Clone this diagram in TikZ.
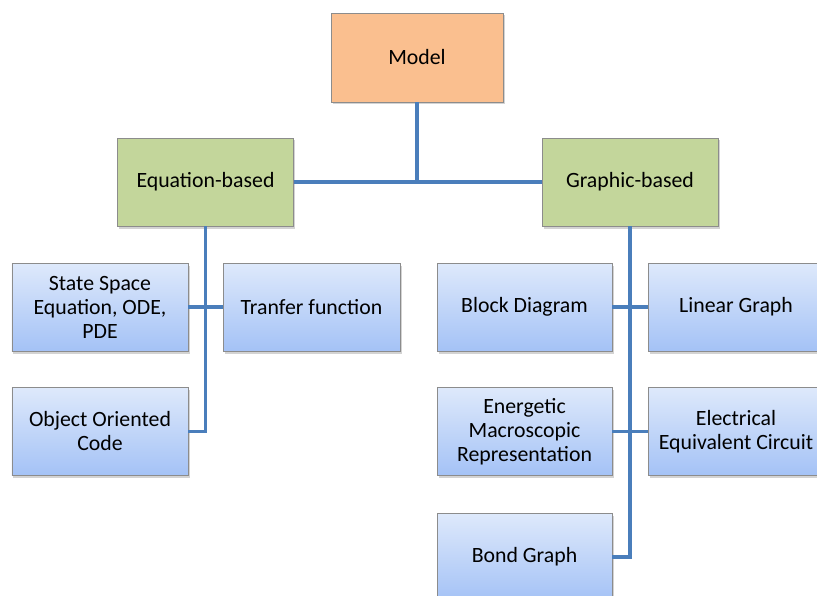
\documentclass[tikz,border=0pt]{standalone}
\usepackage{fontspec}
\setmainfont{Carlito}
\usetikzlibrary{shadows}
\definecolor{linkblue}{RGB}{74,126,187}
\definecolor{modelorange}{RGB}{250,191,143}
\definecolor{catgreen}{RGB}{195,214,155}
\definecolor{leaftop}{RGB}{222,233,251}
\definecolor{leafbot}{RGB}{164,194,246}
\definecolor{boxborder}{RGB}{140,140,140}
\tikzset{
  basebox/.style={draw=boxborder, line width=0.8bp, minimum width=176bp, minimum height=88bp,
    inner sep=0pt, align=center, font=\fontsize{21.8bp}{24bp}\selectfont,
    drop shadow={shadow xshift=1.5bp, shadow yshift=-2.5bp, opacity=0.35}},
  modelbox/.style={basebox, fill=modelorange, minimum width=172bp, minimum height=89bp},
  catbox/.style={basebox, fill=catgreen},
  leafbox/.style={basebox, top color=leaftop, bottom color=leafbot},
  link/.style={draw=linkblue, line width=3.8bp}
}
\begin{document}
\begin{tikzpicture}[x=1bp,y=-1bp]
\useasboundingbox (0,0) rectangle (817,596);
\clip (0,0) rectangle (817,596);
\node[modelbox] (model) at (417,57.5) {Model};
\node[catbox] (eq) at (205.5,182) {Equation-based};
\node[catbox] (gr) at (630,182) {Graphic-based};
\node[leafbox] (ss) at (100,307) {State Space\\Equation, ODE,\\PDE};
\node[leafbox, minimum width=177bp] (tf) at (311.5,307) {Tranfer function};
\node[leafbox] (oo) at (100,431.5) {Object Oriented\\Code};
\node[leafbox, minimum width=175bp] (bd) at (524.5,307) {Block Diagram};
\node[leafbox] (lg) at (736,307) {Linear Graph};
\node[leafbox, minimum width=175bp] (emr) at (524.5,431.5) {Energetic\\Macroscopic\\Representation};
\node[leafbox] (eec) at (736,431.5) {Electrical\\Equivalent Circuit};
\node[leafbox, minimum width=175bp] (bg) at (524.5,557) {Bond Graph};
\path[link] (model.south) -- (model.south |- eq.east);
\path[link] (eq.east) -- (gr.west);
\path[link] (eq.south) -- (eq.south |- oo.east) -- (oo.east);
\path[link] (ss.east) -- (tf.west);
\path[link] (gr.south) -- (gr.south |- bg.east) -- (bg.east);
\path[link] (bd.east) -- (lg.west);
\path[link] (emr.east) -- (eec.west);
\end{tikzpicture}
\end{document}
